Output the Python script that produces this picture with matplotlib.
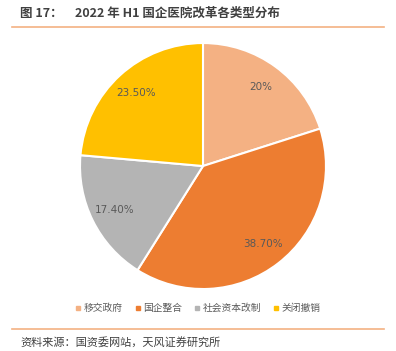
import matplotlib
matplotlib.use('Agg')
import matplotlib.pyplot as plt
import numpy as np
from matplotlib.lines import Line2D

plt.rcParams['font.family'] = ['Noto Sans CJK SC', 'DejaVu Sans']

categories = ['移交政府', '国企整合', '社会资本改制', '关闭撤销']
values = [20.0, 38.7, 17.4, 23.5]
pct_labels = ['20%', '38.70%', '17.40%', '23.50%']
colors = ['#F4B183', '#ED7D31', '#B4B4B4', '#FFC000']

fig = plt.figure(figsize=(3.96, 3.51), dpi=100)

# pie area
ax = fig.add_axes([0.5126 - 0.311, 0.527 - 0.3504, 0.622, 0.7008])
wedges, _ = ax.pie(values, colors=colors, startangle=90, counterclock=False,
                   wedgeprops=dict(edgecolor='white', linewidth=1.5))
for w, lab in zip(wedges, pct_labels):
    ang = np.deg2rad((w.theta1 + w.theta2) / 2)
    ax.text(0.8 * np.cos(ang), 0.8 * np.sin(ang), lab, ha='center', va='center',
            fontsize=7.5, color='#595959', family='DejaVu Sans')
ax.set_xlim(-1, 1)
ax.set_ylim(-1, 1)
ax.set_aspect('equal')

# title and rules
fig.text(20 / 396, 1 - 13 / 351, '图 17：', fontsize=9, fontweight='bold', color='#404040', va='center')
fig.text(75 / 396, 1 - 13 / 351, '2022 年 H1 国企医院改革各类型分布', fontsize=9,
         fontweight='bold', color='#404040', va='center')
fig.add_artist(Line2D([12 / 396, 384 / 396], [1 - 27 / 351] * 2, color='#F4B183', linewidth=1.2))
fig.add_artist(Line2D([12 / 396, 384 / 396], [1 - 329 / 351] * 2, color='#F4B183', linewidth=1.2))

# legend
handles = [Line2D([], [], marker='s', linestyle='none', markersize=2.5, color=c) for c in colors]
fig.legend(handles, categories, loc='center', bbox_to_anchor=(0.5, 1 - 308 / 351), ncol=4,
           frameon=False, fontsize=7, labelcolor='#595959', handlelength=0.6,
           handletextpad=0.3, columnspacing=1.2)

fig.text(20 / 396, 1 - 343 / 351, '资料来源：国资委网站，天风证券研究所', fontsize=8,
         color='#404040', va='center')

fig.savefig('out.png', dpi=100)
